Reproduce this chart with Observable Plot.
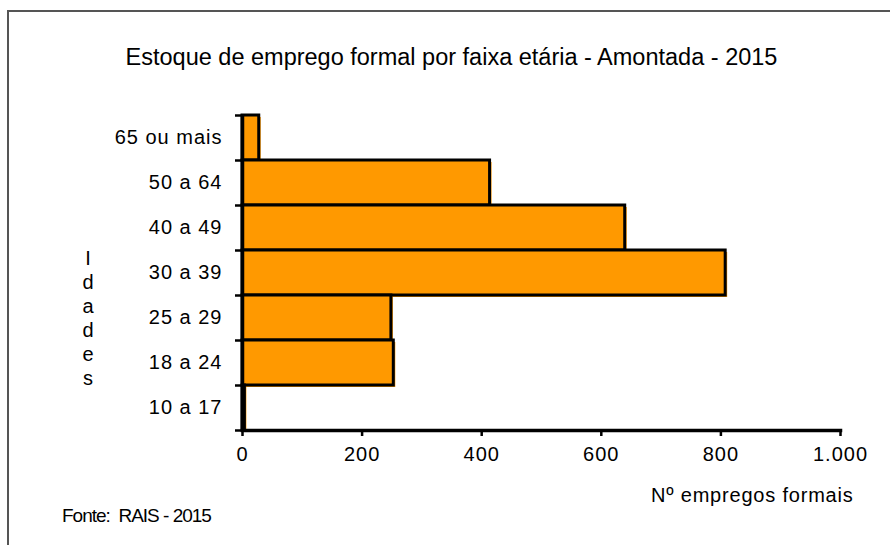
<!DOCTYPE html>
<html>
<head>
<meta charset="utf-8">
<script src="https://cdn.jsdelivr.net/npm/d3@7"></script>
<script src="https://cdn.jsdelivr.net/npm/@observablehq/plot@0.6"></script>
<style>
  html, body { margin: 0; padding: 0; background: #fff; }
  #wrap { position: relative; width: 890px; height: 545px; overflow: hidden; font-family: "Liberation Sans", Arial, sans-serif; color: #000; }
  #border { position: absolute; left: 7px; top: 10px; width: 900px; height: 600px; border-top: 2px solid #555; border-left: 2px solid #555; }
  #title { position: absolute; left: 0; width: 903px; top: 44px; text-align: center; font-size: 23.5px; letter-spacing: 0px; white-space: nowrap; }
  #ylab { position: absolute; left: 78px; width: 20px; top: 246px; text-align: center; font-size: 20px; line-height: 24px; }
  #xlab { position: absolute; left: 651px; top: 484px; font-size: 20px; letter-spacing: 0.8px; white-space: nowrap; }
  #src { position: absolute; left: 62px; top: 505px; font-size: 19px; letter-spacing: -1px; white-space: nowrap; }
  #chart { position: absolute; left: 0; top: 0; }
  #chart svg text { letter-spacing: 1px; }
</style>
</head>
<body>
<div id="wrap">
  <div id="border"></div>
  <div id="chart"></div>
  <div id="title">Estoque de emprego formal por faixa etária - Amontada - 2015</div>
  <div id="ylab">I<br>d<br>a<br>d<br>e<br>s</div>
  <div id="xlab">Nº empregos formais</div>
  <div id="src">Fonte:&nbsp; RAIS - 2015</div>
</div>
<script>
const categories = ["65 ou mais", "50 a 64", "40 a 49", "30 a 39", "25 a 29", "18 a 24", "10 a 17"];
const values = [28, 414, 640, 808, 249, 253, 4];
const xTicks = [0, 200, 400, 600, 800, 1000];

const data = categories.map((c, i) => ({faixa: c, n: values[i]}));
const ptFormat = d3.formatLocale({decimal: ",", thousands: ".", grouping: [3], currency: ["", ""]}).format(",");
const orange = "#FF9900";
const half = 22.5;

const chart = Plot.plot({
  width: 890,
  height: 545,
  marginLeft: 242,
  marginRight: 50,
  marginTop: 115,
  marginBottom: 115,
  style: {fontFamily: "'Liberation Sans', Arial, sans-serif", fontSize: "20px", color: "#000", background: "transparent"},
  x: {domain: [0, 1000], ticks: xTicks, tickFormat: ptFormat, label: null},
  y: {domain: categories, padding: 0, label: null},
  marks: [
    Plot.barX(data, {x: "n", y: "faixa", fill: orange, dx: 2, dy: 2}),
    Plot.barX(data, {x: "n", y: "faixa", fill: orange, stroke: "black", strokeWidth: 3}),
    Plot.axisY({tickSize: 7, tickFormat: () => "", strokeWidth: 2.5, dy: -half}),
    Plot.axisY({ticks: [categories[categories.length - 1]], tickSize: 7, tickFormat: () => "", strokeWidth: 2.5, dy: half}),
    Plot.axisY({tickSize: 0, tickPadding: 20, fontSize: 20, label: null}),
    Plot.axisX({tickSize: 6, tickPadding: 10, strokeWidth: 2.5, fontSize: 20, label: null, ticks: xTicks, tickFormat: ptFormat}),
    Plot.frame({anchor: "bottom", strokeWidth: 3.5, stroke: "black"}),
    Plot.ruleX([0], {strokeWidth: 3.5, stroke: "black"})
  ]
});
document.getElementById("chart").appendChild(chart);
</script>
</body>
</html>
